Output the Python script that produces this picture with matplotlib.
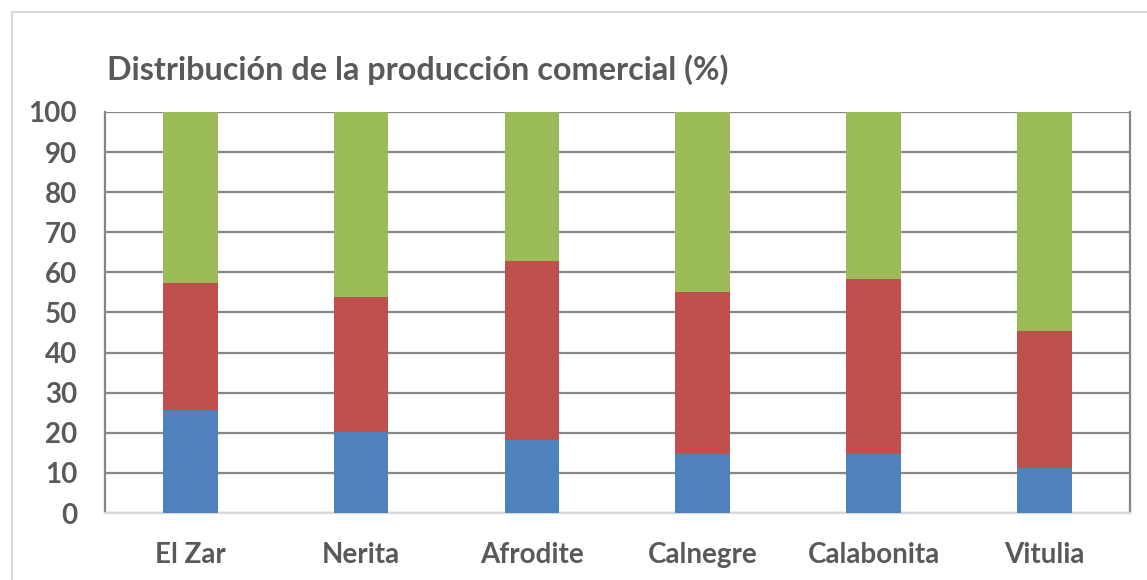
import matplotlib.pyplot as plt
import numpy as np
from matplotlib.patches import Rectangle

plt.rcParams['font.family'] = ['Lato', 'DejaVu Sans']

variedades = ['El Zar', 'Nerita', 'Afrodite', 'Calnegre', 'Calabonita', 'Vitulia']
azul = [25.7, 20.3, 18.1, 14.8, 14.8, 11.2]
rojo = [31.7, 33.5, 44.7, 40.2, 43.5, 34.3]
verde = [42.6, 46.2, 37.2, 45.0, 41.7, 54.5]

gris = '#595959'

fig = plt.figure(figsize=(11.47, 5.8), dpi=100)
ax = fig.add_axes([0.0915, 0.1155, 0.8935, 0.6915])

x = np.arange(len(variedades))
w = 0.32
ax.bar(x, azul, w, color='#4F81BD', zorder=3)
ax.bar(x, rojo, w, bottom=azul, color='#C0504D', zorder=3)
ax.bar(x, verde, w, bottom=np.array(azul) + np.array(rojo), color='#9BBB59', zorder=3)

ax.set_xlim(-0.5, len(variedades) - 0.5)
ax.set_ylim(0, 100)
ax.set_yticks(range(0, 101, 10))
ax.set_xticks(x)
ax.set_xticklabels(variedades)
ax.grid(axis='y', color='#868686', linewidth=1.6, zorder=0)

for s in ['left', 'right']:
    ax.spines[s].set_color('#868686')
    ax.spines[s].set_linewidth(1.6)
ax.spines['top'].set_visible(False)
ax.spines['bottom'].set_color('#d9d9d9')
ax.spines['bottom'].set_linewidth(1.6)

ax.tick_params(axis='both', length=0, labelsize=20, labelcolor=gris)
ax.tick_params(axis='x', pad=21)
ax.tick_params(axis='y', pad=20)
for lab in ax.get_xticklabels() + ax.get_yticklabels():
    lab.set_fontweight('bold')

fig.text(107 / 1147, 1 - 70 / 580, 'Distribución de la producción comercial (%)',
         fontsize=23.3, fontweight='bold', color=gris, va='center', ha='left')

fig.patches.append(Rectangle((12 / 1147, -0.1), 1.2, 1.1 - 12 / 580, transform=fig.transFigure,
                             fill=False, edgecolor='#d9d9d9', linewidth=1.5))

plt.savefig('out.png', dpi=100)
